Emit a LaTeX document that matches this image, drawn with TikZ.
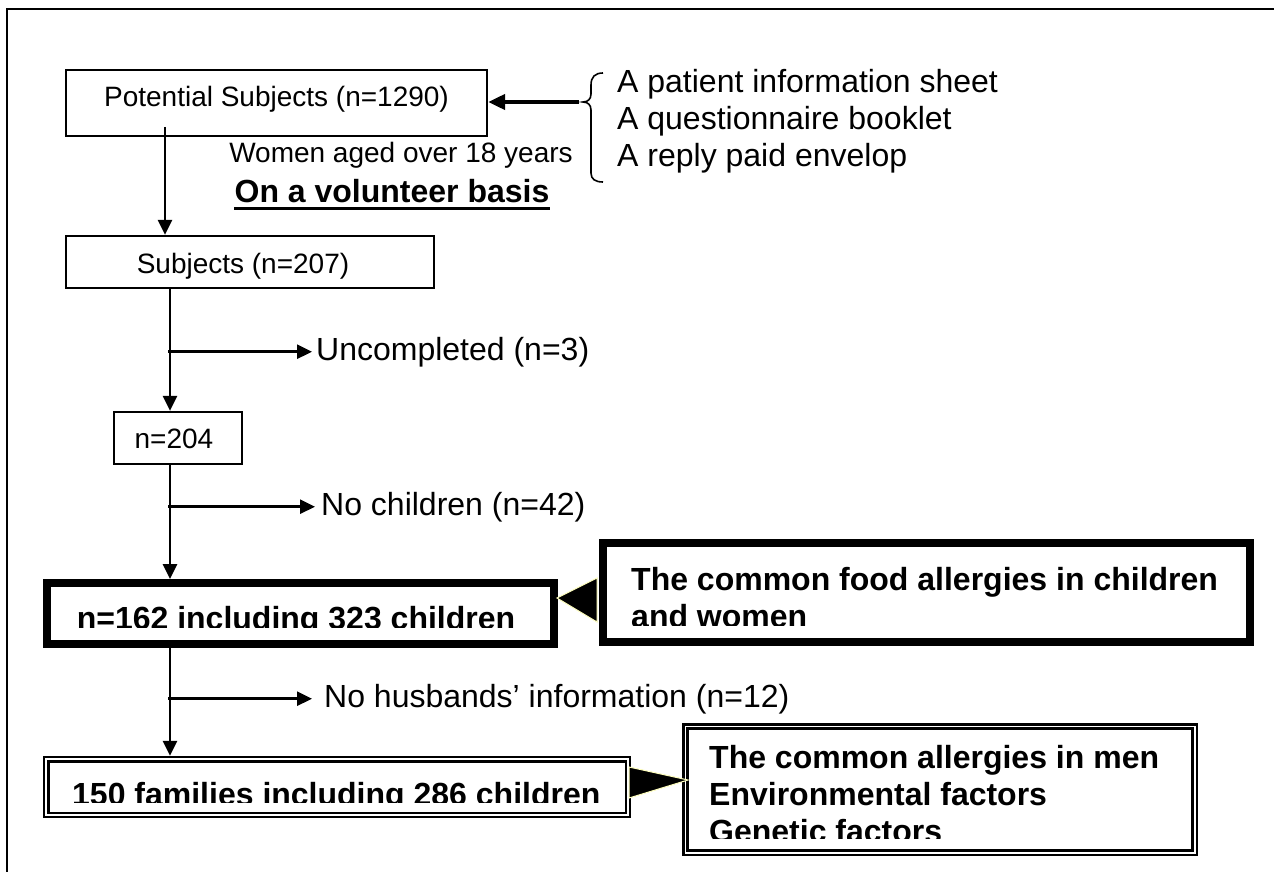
\documentclass[tikz,border=0pt]{standalone}
\usepackage{fontspec}
\setmainfont{Liberation Sans}
\usetikzlibrary{arrows.meta,calc}
\definecolor{paleyellow}{RGB}{255,255,190}
\newcommand{\bigf}{\fontsize{32}{37}\selectfont}
\newcommand{\smallf}{\fontsize{28}{33}\selectfont}
\begin{document}
\begin{tikzpicture}[x=1pt,y=-1pt,
  plainbox/.style={draw,line width=2.2pt,inner sep=0pt},
  thickbox/.style={draw,line width=7.5pt,inner sep=0pt},
  dblbox/.style={draw,line width=2.3pt,inner sep=0pt},
  flow/.style={line width=2.6pt,-{Triangle[length=15pt,width=14pt]}},
  lbl/.style={inner sep=0pt,anchor=base west,font=\bigf},
  small/.style={inner sep=0pt,anchor=base,font=\smallf},
  boldtxt/.style={inner sep=0pt,font=\bigf\bfseries},
  tri/.style={fill=black,draw=paleyellow,line width=1pt},
]
\useasboundingbox (0,0) rectangle (1274,872);
\fill[white] (0,0) rectangle (1274,872);
% outer frame (only top and left visible)
\draw[line width=2pt] (7,880) -- (7,9) -- (1280,9);

% plain boxes
\node[plainbox,minimum width=421pt,minimum height=65.4pt] (b1) at (276.5,103) {};
\node[small] (t1) at (276.5,106.7) {Potential Subjects (n=1290)};
\node[plainbox,minimum width=368pt,minimum height=52pt] (b2) at (250,262) {};
\node[small] (t2) at (243,273.3) {Subjects (n=207)};
\node[plainbox,minimum width=128pt,minimum height=52pt] (b3) at (178,438) {};
\node[small] (t3) at (174,448) {n=204};

% thick box n=162
\node[thickbox,minimum width=507.5pt,minimum height=61.5pt] (b4) at (300.5,613.5) {};
\draw[line width=2pt] ($(b4.north west)+(7,7)$) rectangle ($(b4.south east)+(-7,-7)$);
\begin{scope}
\clip (50,590) rectangle (550,627);
\node[boldtxt,anchor=base] (t4) at (296,629) {n=162 including 323 children};
\end{scope}

% food allergy box
\node[draw,line width=8pt,inner sep=0pt,minimum width=647pt,minimum height=99pt] (fa) at (926.5,592.5) {};
\draw[line width=2.5pt] ($(fa.north west)+(7,7)$) rectangle ($(fa.south east)+(-7,-7)$);
\begin{scope}
\clip (612,552) rectangle (1240,625);
\node[boldtxt,anchor=base west] (fa1) at (631,590) {The common food allergies in children};
\node[boldtxt,anchor=base west] (fa2) at (631,627) {and women};
\end{scope}

% double box 150 families
\node[dblbox,minimum width=586pt,minimum height=60pt] (b5) at (337,787) {};
\draw[line width=2.3pt] ($(b5.north west)+(5.5,5.5)$) rectangle ($(b5.south east)+(-5.5,-5.5)$);
\begin{scope}
\clip (50,763) rectangle (624,802);
\node[boldtxt,anchor=base west] (t5) at (72,805) {150 families including 286 children};
\end{scope}

% double box men / factors
\node[draw,line width=2.5pt,inner sep=0pt,minimum width=513.5pt,minimum height=130.5pt] (mf) at (940,789.5) {};
\draw[line width=3pt] ($(mf.north west)+(5.5,5.5)$) rectangle ($(mf.south east)+(-5.5,-5.5)$);
\begin{scope}
\clip (691,732) rectangle (1189,838);
\node[boldtxt,anchor=base west] (mf1) at (709,768) {The common allergies in men};
\node[boldtxt,anchor=base west] (mf2) at (709,805) {Environmental factors};
\node[boldtxt,anchor=base west] (mf3) at (709,842) {Genetic factors};
\end{scope}

% wide triangle arrows
\draw[tri] (557,598) -- (597,578) -- (597,622) -- cycle;
\draw[tri] (688,780) -- (629,767) -- (629,798) -- cycle;

% side labels
\node[small] (w) at (401,162) {Women aged over 18 years};
\node[boldtxt,anchor=base] (v) at (392,202) {On a volunteer basis};
\draw[line width=3pt] ([yshift=-6.5pt]v.base west) -- ([yshift=-6.5pt]v.base east);

\node[lbl] (s1) at (617,93) {A patient information sheet};
\node[lbl] (s2) at (617,130) {A questionnaire booklet};
\node[lbl] (s3) at (617,167) {A reply paid envelop};

% brace
\draw[line width=1.6pt] (603,73) .. controls (595,73) and (591,77) .. (591,85) -- (591,94)
  .. controls (591,99) and (588,102) .. (583,102)
  .. controls (588,102) and (591,105) .. (591,110) -- (591,173)
  .. controls (591,179) and (595,182) .. (603,182);
\coordinate (bt) at (579,102);
\draw[line width=4pt,-{Triangle[length=17pt,width=15pt]}] (bt) -- (b1.east |- bt);

% exclusion labels
\node[lbl] (u) at (316,360) {Uncompleted (n=3)};
\node[lbl] (nc) at (321,515) {No children (n=42)};
\node[lbl] (nh) at (324,707) {No husbands’ information (n=12)};

% vertical flow
\coordinate (xa) at (165,0);
\coordinate (xb) at (170,0);
\coordinate (xj) at (168,0);
\draw[flow] ([yshift=10pt]b1.south -| xa) -- (b2.north -| xa);
\draw[flow] (b2.south -| xb) -- (b3.north -| xb);
\draw[flow] (b3.south -| xb) -- (b4.north -| xb);
\draw[flow] (b4.south -| xb) -- (b5.north -| xb);
% branches
\draw[flow,shorten >=4pt] (u.west -| xj) -- (u.west);
\draw[flow,shorten >=6pt] (nc.west -| xj) -- (nc.west);
\draw[flow,shorten >=12pt] (nh.west -| xj) -- (nh.west);
\end{tikzpicture}
\end{document}
